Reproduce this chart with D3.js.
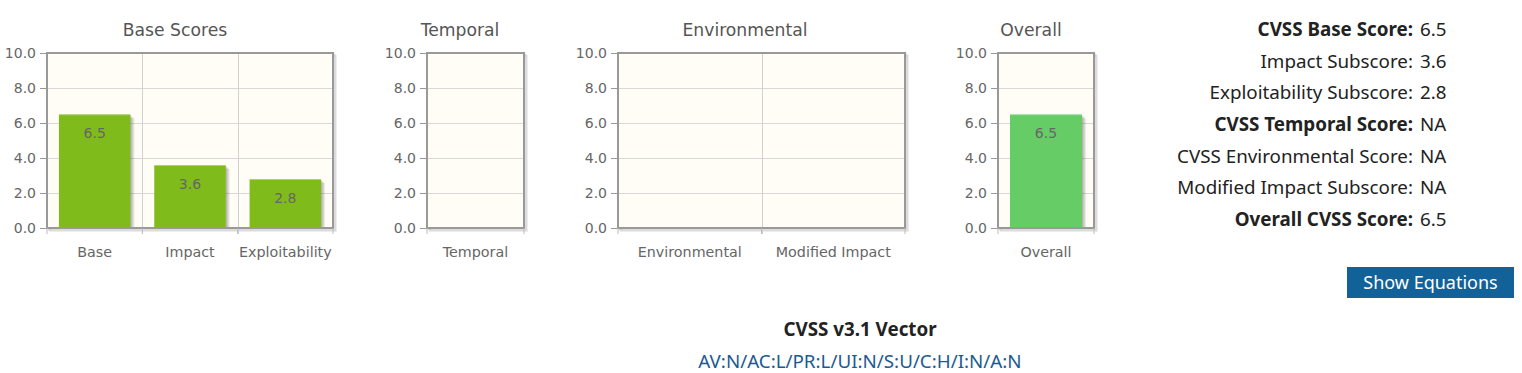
<!DOCTYPE html>
<html>
<head>
<meta charset="utf-8">
<script src="https://cdnjs.cloudflare.com/ajax/libs/d3/7.8.5/d3.min.js"></script>
<style>
  body { margin: 0; background: #fff; }
  svg { display: block; }
  .title { font-family: 'DejaVu Sans', sans-serif; font-size: 17.2px; fill: #555; }
  .tick-label { font-family: 'DejaVu Sans', sans-serif; font-size: 14px; fill: #666; }
  .cat-label { font-family: 'DejaVu Sans', sans-serif; font-size: 14.3px; fill: #666; }
  .bar-label { font-family: 'DejaVu Sans', sans-serif; font-size: 14px; fill: #666; }
  .score { font-family: 'Noto Sans', sans-serif; font-size: 18.8px; fill: #222; }
</style>
</head>
<body>
<svg id="chart" width="1522" height="373"></svg>
<script>

var yTicks = [ 0, 2, 4, 6, 8, 10 ];

var baseCategories = [ 'Base', 'Impact', 'Exploitability' ];
var baseValues = [ 6.5, 3.6, 2.8 ];

var temporalCategories = [ 'Temporal' ];
var temporalValues = [ null ];

var envCategories = [ 'Environmental', 'Modified Impact' ];
var envValues = [ null, null ];

var overallCategories = [ 'Overall' ];
var overallValues = [ 6.5 ];

var scoreLabels = [ 'CVSS Base Score:', 'Impact Subscore:', 'Exploitability Subscore:', 'CVSS Temporal Score:',
	'CVSS Environmental Score:', 'Modified Impact Subscore:', 'Overall CVSS Score:' ];
var scoreValues = [ '6.5', '3.6', '2.8', 'NA', 'NA', 'NA', '6.5' ];
var scoreBold = [ true, false, false, true, false, false, true ];

var vectorTitle = 'CVSS v3.1 Vector';
var vectorString = 'AV:N/AC:L/PR:L/UI:N/S:U/C:H/I:N/A:N';

var svg = d3.select( '#chart' );

var plotTop = 53, plotBottom = 228;
var y = d3.scaleLinear().domain( [ 0, 10 ] ).range( [ plotBottom, plotTop ] );

var panels = [
	{ title: 'Base Scores', titleX: 175, left: 47, right: 333, cats: baseCategories, vals: baseValues, color: '#7fbc1b' },
	{ title: 'Temporal', titleX: 460, left: 427, right: 524, cats: temporalCategories, vals: temporalValues, color: '#7fbc1b' },
	{ title: 'Environmental', titleX: 745, left: 618, right: 905, cats: envCategories, vals: envValues, color: '#7fbc1b' },
	{ title: 'Overall', titleX: 1031, left: 998, right: 1094, cats: overallCategories, vals: overallValues, color: '#66cc66' }
];

panels.forEach( function ( p ) {

	var x = d3.scaleBand().domain( p.cats ).range( [ p.left, p.right ] ).paddingInner( 0 ).paddingOuter( 0 );
	var g = svg.append( 'g' );

	// title
	g.append( 'text' )
		.classed( 'title', true )
		.attr( 'x', p.titleX )
		.attr( 'y', 36 )
		.attr( 'text-anchor', 'middle' )
		.text( p.title );

	// plot shadow
	for ( var s = 1; s <= 3; s++ ) {
		g.append( 'rect' )
			.attr( 'x', p.left + s )
			.attr( 'y', plotTop + s )
			.attr( 'width', p.right - p.left )
			.attr( 'height', plotBottom - plotTop )
			.attr( 'fill', 'none' )
			.attr( 'stroke', 'rgba(0,0,0,0.07)' )
			.attr( 'stroke-width', 2 );
	}

	// background
	g.append( 'rect' )
		.attr( 'x', p.left )
		.attr( 'y', plotTop )
		.attr( 'width', p.right - p.left )
		.attr( 'height', plotBottom - plotTop )
		.attr( 'fill', '#fffdf6' );

	// horizontal grid
	g.selectAll( 'line.hgrid' )
		.data( yTicks.slice( 1, -1 ) )
		.enter()
		.append( 'line' )
		.attr( 'x1', p.left ).attr( 'x2', p.right )
		.attr( 'y1', function ( d ) { return Math.round( y( d ) ) + 0.5; } )
		.attr( 'y2', function ( d ) { return Math.round( y( d ) ) + 0.5; } )
		.attr( 'stroke', '#d8d8d8' );

	// vertical grid between categories
	g.selectAll( 'line.vgrid' )
		.data( p.cats.slice( 1 ) )
		.enter()
		.append( 'line' )
		.attr( 'x1', function ( d ) { return Math.round( x( d ) ) + 0.5; } )
		.attr( 'x2', function ( d ) { return Math.round( x( d ) ) + 0.5; } )
		.attr( 'y1', plotTop ).attr( 'y2', plotBottom + 6 )
		.attr( 'stroke', '#d0d0d0' );

	// bars
	var bw = x.bandwidth();
	var pad = bw * 0.125;
	var barData = p.cats.map( function ( c, i ) { return { cat: c, val: p.vals[i] }; } )
		.filter( function ( d ) { return d.val !== null; } );

	barData.forEach( function ( d ) {
		var bx = x( d.cat ) + pad, by = y( d.val ), w = bw - 2 * pad, h = plotBottom - 1 - by;
		for ( var s = 4; s >= 1; s-- ) {
			g.append( 'rect' )
				.attr( 'x', bx + s ).attr( 'y', by + s )
				.attr( 'width', w ).attr( 'height', h - s )
				.attr( 'fill', 'rgba(0,0,0,0.08)' );
		}
		g.append( 'rect' )
			.attr( 'x', bx ).attr( 'y', by )
			.attr( 'width', w ).attr( 'height', h )
			.attr( 'fill', p.color );
		g.append( 'line' )
			.attr( 'x1', bx ).attr( 'x2', bx + w )
			.attr( 'y1', by + 0.5 ).attr( 'y2', by + 0.5 )
			.attr( 'stroke', 'rgba(255,255,255,0.35)' );
		g.append( 'text' )
			.classed( 'bar-label', true )
			.attr( 'x', bx + w / 2 )
			.attr( 'y', by + 24 )
			.attr( 'text-anchor', 'middle' )
			.text( d.val.toFixed( 1 ) );
	} );

	// border
	g.append( 'rect' )
		.attr( 'x', p.left )
		.attr( 'y', plotTop )
		.attr( 'width', p.right - p.left )
		.attr( 'height', plotBottom - plotTop )
		.attr( 'fill', 'none' )
		.attr( 'stroke', '#999' )
		.attr( 'stroke-width', 2 );

	// y axis
	var yAxis = d3.axisLeft( y )
		.tickValues( yTicks )
		.tickSize( 6 )
		.tickPadding( 4 )
		.tickFormat( d3.format( '.1f' ) );

	var ya = g.append( 'g' )
		.attr( 'transform', 'translate(' + ( p.left - 1 ) + ',0)' )
		.call( yAxis );
	ya.select( '.domain' ).remove();
	ya.selectAll( '.tick line' ).attr( 'stroke', '#999' );
	ya.selectAll( '.tick text' ).attr( 'class', 'tick-label' );
	ya.attr( 'font-size', null ).attr( 'font-family', null );

	// x axis ticks at boundaries
	var bounds = p.cats.map( function ( c ) { return x( c ); } ).concat( [ p.right ] );
	g.selectAll( 'line.xtick' )
		.data( bounds )
		.enter()
		.append( 'line' )
		.attr( 'x1', function ( d ) { return d; } )
		.attr( 'x2', function ( d ) { return d; } )
		.attr( 'y1', plotBottom ).attr( 'y2', plotBottom + 6 )
		.attr( 'stroke', '#bbb' );

	g.selectAll( 'text.cat-label' )
		.data( p.cats )
		.enter()
		.append( 'text' )
		.classed( 'cat-label', true )
		.attr( 'x', function ( d ) { return x( d ) + bw / 2; } )
		.attr( 'y', 257 )
		.attr( 'text-anchor', 'middle' )
		.text( function ( d ) { return d; } );
} );

// score summary
var rowY = d3.scaleLinear().domain( [ 0, scoreLabels.length - 1 ] ).range( [ 36, 226 ] );
var summary = svg.append( 'g' );
scoreLabels.forEach( function ( label, i ) {
	summary.append( 'text' )
		.classed( 'score', true )
		.attr( 'x', 1413 )
		.attr( 'y', rowY( i ) )
		.attr( 'text-anchor', 'end' )
		.attr( 'font-weight', scoreBold[i] ? 'bold' : 'normal' )
		.text( label );
	summary.append( 'text' )
		.classed( 'score', true )
		.attr( 'x', 1420 )
		.attr( 'y', rowY( i ) )
		.text( scoreValues[i] );
} );

// button
svg.append( 'rect' )
	.attr( 'x', 1347 ).attr( 'y', 267 )
	.attr( 'width', 167 ).attr( 'height', 31 )
	.attr( 'fill', '#126199' );
svg.append( 'text' )
	.classed( 'score', true )
	.attr( 'x', 1430.5 ).attr( 'y', 289 )
	.attr( 'text-anchor', 'middle' )
	.style( 'fill', '#fff' )
	.style( 'font-size', '18px' )
	.text( 'Show Equations' );

// vector
svg.append( 'text' )
	.classed( 'score', true )
	.attr( 'x', 860 ).attr( 'y', 336 )
	.attr( 'text-anchor', 'middle' )
	.attr( 'font-weight', 'bold' )
	.text( vectorTitle );
svg.append( 'text' )
	.classed( 'score', true )
	.attr( 'x', 860 ).attr( 'y', 368 )
	.attr( 'text-anchor', 'middle' )
	.style( 'fill', '#1c5a92' )
	.text( vectorString );

</script>
</body>
</html>
